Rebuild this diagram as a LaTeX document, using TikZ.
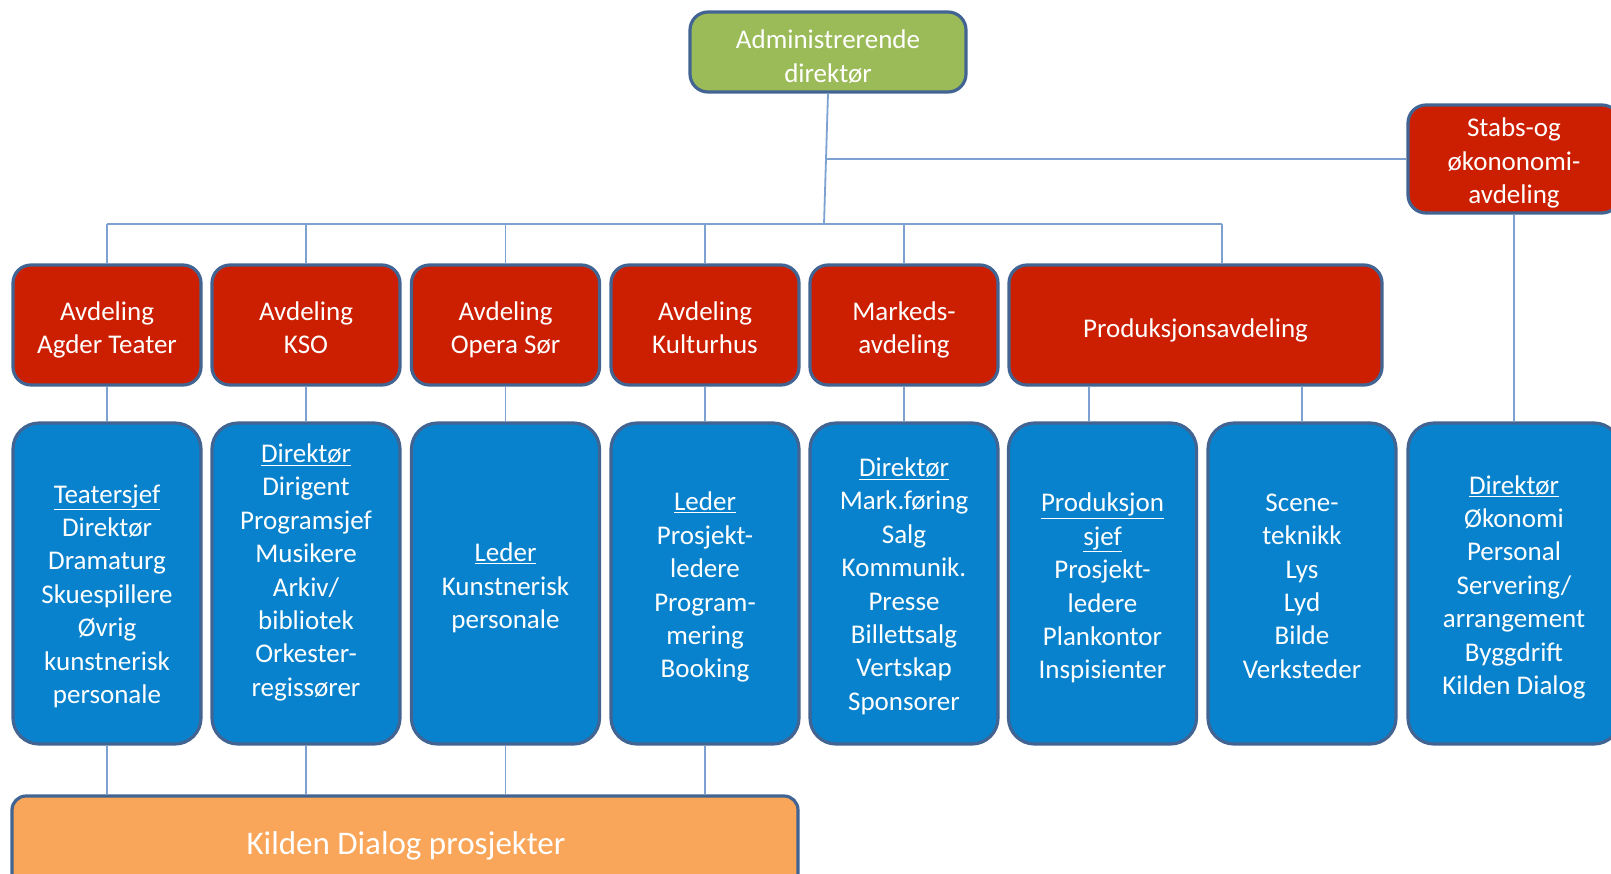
\documentclass[tikz,border=0pt]{standalone}
\usepackage{fontspec}
\setmainfont{Carlito}
\definecolor{bordc}{RGB}{66,100,146}
\definecolor{linec}{RGB}{125,162,210}
\definecolor{greenc}{RGB}{155,187,89}
\definecolor{redc}{RGB}{204,30,0}
\definecolor{bluec}{RGB}{8,130,204}
\definecolor{orangec}{RGB}{249,166,90}
\newcommand\fs{\fontsize{27}{33.4}\selectfont}
\newcommand\fb{\fontsize{33}{39}\selectfont}
\begin{document}
\begin{tikzpicture}[x=1pt,y=-1pt,
  box/.style={draw=bordc, line width=3.2pt, rounded corners=18pt, text=white, align=center, font=\fs, inner sep=0pt, execute at begin node=\strut, execute at end node=\strut},
  redbox/.style={box, fill=redc, minimum width=188pt, minimum height=120pt},
  bluebox/.style={box, fill=bluec, minimum width=188pt, minimum height=321pt, rounded corners=26pt},
  txt/.style={text=white, align=center, font=\fs, inner sep=0pt, execute at begin node=\strut, execute at end node=\strut},
  conn/.style={draw=linec, line width=1.8pt}]
\useasboundingbox (0,0) rectangle (1611,873);
\begin{scope}
\clip (0,0) rectangle (1611,873);
% top
\node[box, fill=greenc, minimum width=276pt, minimum height=80pt] (A) at (828,52) {};
\node[txt] (At) at (828,61) {Administrerende\\direktør};
\node[box, fill=redc, minimum width=212pt, minimum height=108pt] (S) at (1514,159) {};
\node[txt] (St) at (1514,166) {Stabs-og\\økononomi-\\avdeling};
% red row
\node[redbox] (r1) at (107,325) {};
\node[redbox] (r2) at (306,325) {};
\node[redbox] (r3) at (505.5,325) {};
\node[redbox] (r4) at (705,325) {};
\node[redbox] (r5) at (904,325) {};
\node[redbox, minimum width=373pt] (r6) at (1195.5,325) {};
\node[txt] (rt1) at (107,332.5) {Avdeling\\Agder Teater};
\node[txt] (rt2) at (306,332.5) {Avdeling\\KSO};
\node[txt] (rt3) at (505.5,332.5) {Avdeling\\Opera Sør};
\node[txt] (rt4) at (705,332.5) {Avdeling\\Kulturhus};
\node[txt] (rt5) at (904,332.5) {Markeds-\\avdeling};
\node[txt] (rt6) at (1195.5,331) {Produksjonsavdeling};
% blue row
\node[bluebox] (b1) at (107,583.5) {};
\node[bluebox] (b2) at (306,583.5) {};
\node[bluebox] (b3) at (505.5,583.5) {};
\node[bluebox] (b4) at (705,583.5) {};
\node[bluebox] (b5) at (904,583.5) {};
\node[bluebox] (b6) at (1102.5,583.5) {};
\node[bluebox] (b7) at (1302,583.5) {};
\node[bluebox, minimum width=212pt] (b8) at (1514,583.5) {};
\node[txt] (t1) at (107,599) {\underline{Teatersjef}\\Direktør\\Dramaturg\\Skuespillere\\Øvrig\\kunstnerisk\\personale};
\node[txt] (t2) at (306,575) {\underline{Direktør}\\Dirigent\\Programsjef\\Musikere\\Arkiv/\\bibliotek\\Orkester-\\regissører};
\node[txt] (t3) at (505.5,591) {\underline{Leder}\\Kunstnerisk\\personale};
\node[txt] (t4) at (705,590) {\underline{Leder}\\Prosjekt-\\ledere\\Program-\\mering\\Booking};
\node[txt] (t5) at (904,589) {\underline{Direktør}\\Mark.føring\\Salg\\Kommunik.\\Presse\\Billettsalg\\Vertskap\\Sponsorer};
\node[txt] (t6) at (1102.5,591) {\underline{Produksjon}\\\underline{sjef}\\Prosjekt-\\ledere\\Plankontor\\Inspisienter};
\node[txt] (t7) at (1302,591) {Scene-\\teknikk\\Lys\\Lyd\\Bilde\\Verksteder};
\node[txt] (t8) at (1514,590) {\underline{Direktør}\\Økonomi\\Personal\\Servering/\\arrangement\\Byggdrift\\Kilden Dialog};
% orange
\node[box, fill=orangec, minimum width=786pt, minimum height=95pt, rounded corners=14pt] (O) at (405,843.5) {};
\node[txt, font=\fb] (ot) at (406,847) {Kilden Dialog prosjekter};
\end{scope}
% connectors
\coordinate (bus) at (824,224);
\coordinate (j) at (826,159);
\coordinate (busL) at (107,224);
\coordinate (busR) at (1222,224);
\coordinate (p6) at (1089,0);
\draw[conn] (A.south) -- (bus);
\draw[conn] (j) -- (S.west);
\draw[conn] (busL) -- (busR);
\draw[conn] (r1.north |- busL) -- (r1.north);
\draw[conn] (r2.north |- busL) -- (r2.north);
\draw[conn] (r3.north |- busL) -- (r3.north);
\draw[conn] (r4.north |- busL) -- (r4.north);
\draw[conn] (r5.north |- busL) -- (r5.north);
\draw[conn] (busR) -- (busR |- r6.north);
\draw[conn] (r1.south) -- (b1.north);
\draw[conn] (r2.south) -- (b2.north);
\draw[conn] (r3.south) -- (b3.north);
\draw[conn] (r4.south) -- (b4.north);
\draw[conn] (r5.south) -- (b5.north);
\draw[conn] (r6.south -| p6) -- (b6.north -| p6);
\draw[conn] (r6.south -| b7.north) -- (b7.north);
\draw[conn] (S.south) -- (b8.north);
\draw[conn] (b1.south) -- (b1.south |- O.north);
\draw[conn] (b2.south) -- (b2.south |- O.north);
\draw[conn] (b3.south) -- (b3.south |- O.north);
\draw[conn] (b4.south) -- (b4.south |- O.north);
\end{tikzpicture}
\end{document}
